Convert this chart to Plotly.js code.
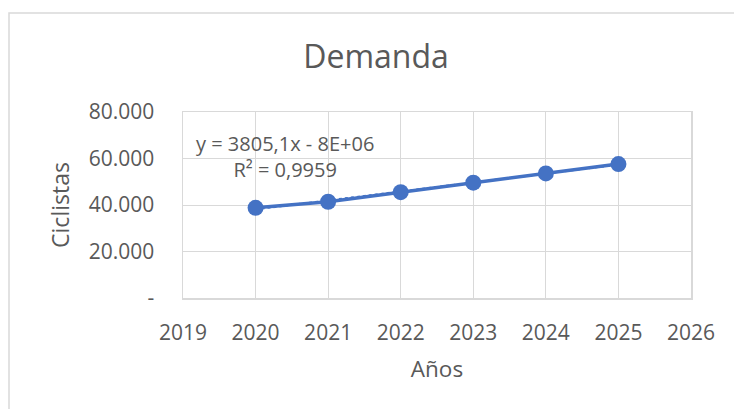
<!DOCTYPE html>
<html>
<head>
<meta charset="utf-8">
<script src="https://cdn.plot.ly/plotly-3.0.1.min.js"></script>
<style>html,body{margin:0;padding:0;background:#fff;}#chart{width:734px;height:409px;}</style>
</head>
<body>
<div id="chart"></div>
<script>
const years = [2020, 2021, 2022, 2023, 2024, 2025];
const ciclistas = [38800, 41400, 45500, 49600, 53600, 57600];
const yTickVals = [0, 20000, 40000, 60000, 80000];
const yTickText = ['-', '20.000', '40.000', '60.000', '80.000'];
const xTickVals = [2019, 2020, 2021, 2022, 2023, 2024, 2025, 2026];
const trendLabel = 'y = 3805,1x - 8E+06<br>R² = 0,9959';

// least-squares trendline from the data
const n = years.length;
const mx = years.reduce((a, b) => a + b, 0) / n;
const my = ciclistas.reduce((a, b) => a + b, 0) / n;
let sxy = 0, sxx = 0;
for (let i = 0; i < n; i++) { sxy += (years[i] - mx) * (ciclistas[i] - my); sxx += (years[i] - mx) ** 2; }
const slope = sxy / sxx, icpt = my - slope * mx;
const trendY = years.map(x => icpt + slope * x);

const FONT = '"Open Sans", "Liberation Sans", sans-serif';
const L = 183, R = 691, T = 112, B = 298, W = 734, H = 409;
const pw = R - L, ph = B - T;

const traces = [
  { x: years, y: trendY, type: 'scatter', mode: 'lines',
    line: { color: '#4472c4', width: 2, dash: 'dot' }, hoverinfo: 'skip', showlegend: false },
  { x: years, y: ciclistas, type: 'scatter', mode: 'lines+markers',
    line: { color: '#4472c4', width: 3.5 }, marker: { color: '#4472c4', size: 16 }, showlegend: false }
];

const layout = {
  width: W, height: H,
  margin: { l: L, r: W - R, t: T, b: H - B, pad: 0 },
  paper_bgcolor: '#ffffff', plot_bgcolor: '#ffffff',
  font: { family: FONT, color: '#595959', size: 21 },
  title: { text: 'Demanda', font: { family: FONT, size: 32, color: '#595959' },
           x: 376 / W, xanchor: 'center', y: 1 - 57 / H, yanchor: 'middle', xref: 'container', yref: 'container' },
  xaxis: {
    range: [2019, 2026], tickvals: xTickVals, ticktext: xTickVals.map(String),
    showgrid: true, gridcolor: '#d9d9d9', gridwidth: 1,
    showline: true, linecolor: '#d9d9d9', linewidth: 1.5, mirror: true,
    ticks: '', ticklabelstandoff: 15, zeroline: false,
    tickfont: { family: FONT, size: 21, color: '#595959' },
    title: { text: 'Años', font: { family: FONT, size: 22.5, color: '#595959' }, standoff: 16 }
  },
  yaxis: {
    range: [0, 80000], tickvals: yTickVals, ticktext: yTickText,
    showgrid: true, gridcolor: '#d9d9d9', gridwidth: 1,
    showline: true, linecolor: '#d9d9d9', linewidth: 1.5, mirror: true,
    ticks: '', ticklabelstandoff: 23, zeroline: false,
    tickfont: { family: FONT, size: 21, color: '#595959' },
    title: { text: 'Ciclistas', font: { family: FONT, size: 23, color: '#595959' }, standoff: 12 }
  },
  annotations: [
    { text: trendLabel, xref: 'x', yref: 'y', x: 2020.4, y: 61000, showarrow: false,
      align: 'center', font: { family: FONT, size: 20, color: '#595959' } }
  ],
  shapes: [
    { type: 'rect', xref: 'paper', yref: 'paper',
      x0: (9 - L) / pw, x1: (740 - L) / pw, y0: (B - 420) / ph, y1: (B - 13) / ph,
      line: { color: '#d9d9d9', width: 1.5 }, fillcolor: 'rgba(0,0,0,0)', layer: 'below' }
  ]
};

Plotly.newPlot('chart', traces, layout, { displayModeBar: false, staticPlot: true });
</script>
</body>
</html>
